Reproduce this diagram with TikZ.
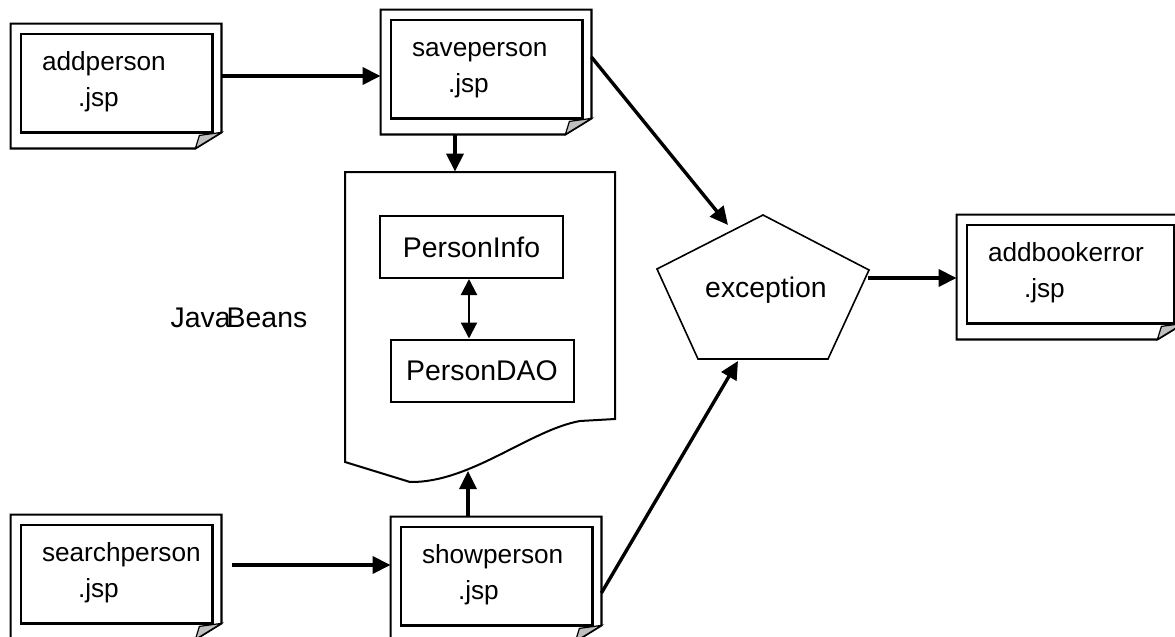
\documentclass[tikz,border=0pt]{standalone}
\usepackage{fontspec}
\setmainfont{Liberation Sans}
\usetikzlibrary{arrows.meta,positioning,calc}

% frame of a jsp page: outer sheet with folded corner, inner sheet
\newcommand{\jspframe}[1]{%
    \draw[pageline] (#1.north west) -- (#1.north east) -- ([yshift=8pt]#1.south east)
        -- ([xshift=-13pt]#1.south east) -- (#1.south west) -- cycle;
    \draw[pageline] ([xshift=5pt,yshift=-5pt]#1.north west) rectangle ([xshift=-4.5pt,yshift=8pt]#1.south east);
    \draw[fold] ([xshift=-13pt]#1.south east) -- ([xshift=-11pt,yshift=6.5pt]#1.south east)
        -- ([yshift=8pt]#1.south east) -- cycle;
}

\begin{document}
\begin{tikzpicture}[x=0.5pt, y=-0.5pt,
    page/.style={rectangle, minimum width=105pt, minimum height=62pt, inner sep=0pt},
    pageline/.style={draw=black, line width=1.1pt, fill=white},
    fold/.style={draw=black, line width=0.6pt, fill=black!25},
    jsp/.style={anchor=base west, inner sep=0pt, align=left,
        font=\fontsize{13.1pt}{18.3pt}\selectfont},
    bean/.style={rectangle, draw, line width=1pt, minimum width=91.5pt, minimum height=31pt,
        inner sep=0pt, font=\fontsize{14.2pt}{17pt}\selectfont},
    lbl/.style={inner sep=0pt, font=\fontsize{14.2pt}{17pt}\selectfont},
    arr/.style={-{Triangle[length=9pt,width=8.5pt]}, line width=1.7pt},
    dbl/.style={{Triangle[length=8pt,width=8pt]}-{Triangle[length=8pt,width=8pt]}, line width=1.1pt}
]
    \useasboundingbox (0,0) rectangle (1175,637);

    % jsp pages
    \node[page] (addperson) at (116,86) {};
    \node[page] (saveperson) at (486,72) {};
    \node[page] (searchperson) at (116,577) {};
    \node[page] (showperson) at (496,579) {};
    \node[page, minimum width=113pt] (addbookerror) at (1070,277) {};
    \foreach \n in {addperson,saveperson,searchperson,showperson,addbookerror}
        \jspframe{\n};
    % base of a two-line node is the baseline of its last line
    \foreach \n in {addperson,saveperson,searchperson,showperson,addbookerror}
        \node[jsp] (\n-txt) at ([xshift=15.5pt,yshift=-41.5pt]\n.north west) {\n\\\hspace*{18pt}.jsp};

    % JavaBeans sheet
    \node[minimum width=135pt, minimum height=123.5pt, inner sep=0pt] (beans) at (480,295.5) {};
    \draw[line width=1pt] (345,172) -- (615,172) -- (615,419) -- (580,421)
        .. controls (530,430) and (470,483) .. (410,482) -- (345,462) -- cycle;
    \coordinate (wave) at (468,471);
    \node[bean] (info) at (471.5,247) {PersonInfo};
    \node[bean] (dao) at (482,370.5) {PersonDAO};
    \draw[dbl] ([xshift=-1.25pt]info.south) -- ([xshift=-1.25pt]info.south |- dao.north);
    \node[lbl, anchor=base] (javabeans) at (239,327) {Java\kern-2pt Beans};

    % exception
    \coordinate (pt) at (763,215);
    \coordinate (pl) at (657,269);
    \coordinate (pr) at (869,270);
    \coordinate (pbr) at (828,359);
    \coordinate (pbl) at (698,359);
    \draw[line width=0.8pt] (pt) -- (pr) -- (pbr) -- (pbl) -- (pl) -- cycle;
    \node[lbl, anchor=base] (exception) at (766,297) {exception};
    \coordinate (exc-top) at (728,225);
    \coordinate (exc-bot) at (738,361);
    \coordinate (exc-out) at (868,278);

    % flow
    \draw[arr] ([yshift=5pt]addperson.east) -- ([yshift=5pt]addperson.east -| saveperson.west);
    \draw[arr] ([xshift=5.5pt,yshift=6pt]searchperson.east) -- ([yshift=6pt]searchperson.east -| showperson.west);
    \draw[arr] ([xshift=-15.5pt]saveperson.south) -- ([xshift=-15.5pt]saveperson.south |- beans.north);
    \draw[arr] ([xshift=-14pt]showperson.north) -- (wave);
    \draw[arr] ([yshift=7.5pt]saveperson.east) -- (exc-top);
    \draw[arr] ([yshift=-7pt]showperson.east) -- (exc-bot);
    \draw[arr] (exc-out) -- (exc-out -| addbookerror.west);
\end{tikzpicture}
\end{document}
